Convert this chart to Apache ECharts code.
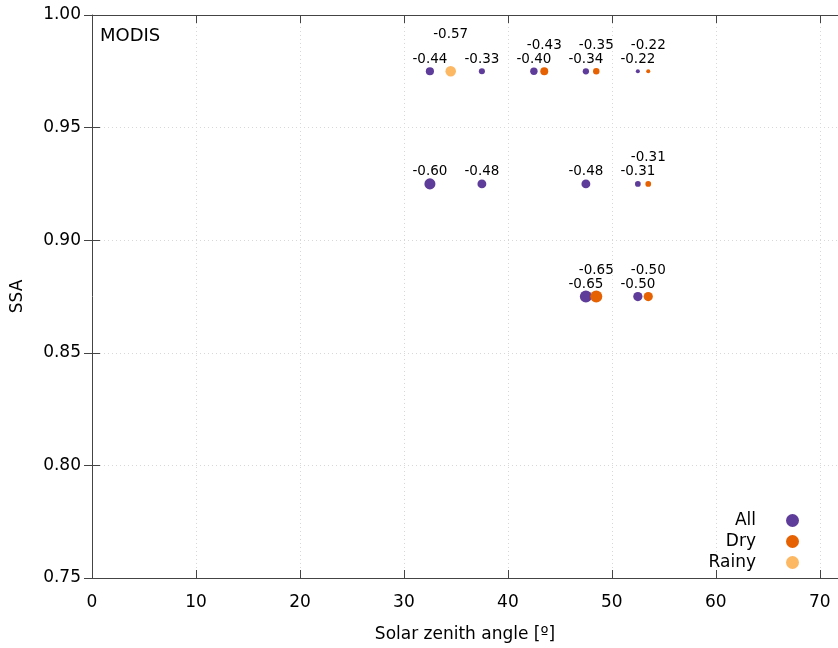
<!DOCTYPE html>
<html>
<head>
<meta charset="utf-8">
<script src="https://cdn.jsdelivr.net/npm/echarts@6/dist/echarts.min.js"></script>
<style>
html,body{margin:0;padding:0;background:#fff;}
#chart{width:838px;height:648px;}
</style>
</head>
<body>
<div id="chart"></div>
<script>
// ---- Data ----
const seriesNames = ['All', 'Dry', 'Rainy'];

const zenithAll = [32.5, 37.5, 42.5, 47.5, 52.5, 32.5, 37.5, 47.5, 52.5, 47.5, 52.5];
const ssaAll    = [0.975, 0.975, 0.975, 0.975, 0.975, 0.925, 0.925, 0.925, 0.925, 0.875, 0.875];
const corrAll   = [-0.44, -0.33, -0.40, -0.34, -0.22, -0.60, -0.48, -0.48, -0.31, -0.65, -0.50];

const zenithDry = [43.5, 48.5, 53.5, 53.5, 48.5, 53.5];
const ssaDry    = [0.975, 0.975, 0.975, 0.925, 0.875, 0.875];
const corrDry   = [-0.43, -0.35, -0.22, -0.31, -0.65, -0.50];

const zenithRainy = [34.5];
const ssaRainy    = [0.975];
const corrRainy   = [-0.57];

const xTicks = [0, 10, 20, 30, 40, 50, 60, 70];
const yTicks = [0.75, 0.80, 0.85, 0.90, 0.95, 1.00];

// ---- Build ----
function pts(xs, ys, cs) {
  return xs.map((x, i) => [x, ys[i], cs[i]]);
}
const FONT = 'DejaVu Sans';
const colors = ['#5e3c99', '#e66101', '#fdb863'];
const labelOffsets = [[0, -12], [0, -26], [0, -37]];

function makeSeries(name, data, idx) {
  return {
    name: name,
    type: 'scatter',
    data: data,
    symbol: 'circle',
    symbolSize: function (v) { return Math.abs(v[2]) * 18.5; },
    itemStyle: { color: colors[idx], opacity: 1 },
    label: {
      show: true,
      position: 'inside',
      offset: labelOffsets[idx],
      color: '#000',
      fontFamily: FONT,
      fontSize: 13.5,
      formatter: function (p) { return p.value[2].toFixed(2); }
    },
    emphasis: { disabled: true },
    z: 3 + idx
  };
}

const chart = echarts.init(document.getElementById('chart'), null, { renderer: 'canvas' });

const axisLineStyle = { color: '#444', width: 1 };
const gridLineStyle = { color: '#d8d8d8', type: [1, 3], width: 1 };
const X_MAX = 71.75;

chart.setOption({
  animation: false,
  backgroundColor: '#fff',
  textStyle: { fontFamily: FONT },
  grid: { left: 92, top: 15, right: 0, bottom: 70, containLabel: false },
  title: {
    text: 'MODIS',
    left: 100,
    top: 27,
    padding: 0,
    textStyle: { fontFamily: FONT, fontSize: 18, fontWeight: 'normal', color: '#000' }
  },
  legend: {
    orient: 'vertical',
    align: 'right',
    right: 34,
    top: 507,
    itemWidth: 13,
    itemHeight: 13,
    itemGap: 4,
    icon: 'circle',
    selectedMode: false,
    data: seriesNames,
    textStyle: { fontFamily: FONT, fontSize: 17, color: '#000', padding: [0, 25, 0, 0] }
  },
  xAxis: [{
    type: 'value',
    min: 0, max: X_MAX, interval: 10,
    name: 'Solar zenith angle [º]',
    nameLocation: 'middle',
    nameGap: 48,
    nameTextStyle: { fontFamily: FONT, fontSize: 17, color: '#000' },
    axisLine: { show: true, lineStyle: axisLineStyle },
    axisTick: { show: true, inside: true, length: 8, lineStyle: axisLineStyle },
    axisLabel: {
      fontFamily: FONT, fontSize: 17, color: '#000', margin: 16, showMaxLabel: false,
      formatter: function (v) { return xTicks.indexOf(v) >= 0 ? String(v) : ''; }
    },
    splitLine: { show: true, lineStyle: gridLineStyle }
  }, {
    type: 'value',
    position: 'top',
    min: 0, max: X_MAX, interval: 10,
    axisLine: { show: true, lineStyle: axisLineStyle },
    axisTick: { show: true, inside: true, length: 8, lineStyle: axisLineStyle },
    axisLabel: { show: false },
    splitLine: { show: false }
  }],
  yAxis: [{
    type: 'value',
    min: 0.75, max: 1.0, interval: 0.05,
    name: 'SSA',
    nameLocation: 'middle',
    nameGap: 66,
    nameTextStyle: { fontFamily: FONT, fontSize: 17, color: '#000' },
    axisLine: { show: true, lineStyle: axisLineStyle },
    axisTick: { show: true, inside: true, length: 8, lineStyle: axisLineStyle },
    axisLabel: {
      fontFamily: FONT, fontSize: 17, color: '#000', margin: 11,
      formatter: function (v) { return v.toFixed(2); }
    },
    splitLine: { show: true, lineStyle: gridLineStyle }
  }, {
    type: 'value',
    position: 'right',
    min: 0.75, max: 1.0, interval: 0.05,
    axisLine: { show: false },
    axisTick: { show: true, inside: true, length: 8, lineStyle: axisLineStyle },
    axisLabel: { show: false },
    splitLine: { show: false }
  }],
  series: [
    makeSeries('All', pts(zenithAll, ssaAll, corrAll), 0),
    makeSeries('Dry', pts(zenithDry, ssaDry, corrDry), 1),
    makeSeries('Rainy', pts(zenithRainy, ssaRainy, corrRainy), 2)
  ]
});
</script>
</body>
</html>
